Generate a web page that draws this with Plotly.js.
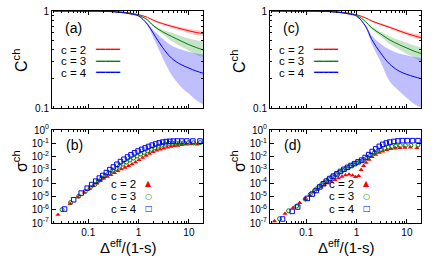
<!DOCTYPE html>
<html><head><meta charset="utf-8">
<script src="https://cdn.plot.ly/plotly-3.0.1.min.js"></script>
<style>html,body{margin:0;padding:0;background:#fff}#chart{width:436px;height:262px}</style>
</head><body><div id="chart"></div>
<script>
// ---------- data: top panels (C^ch curves with bands) ----------
const xCurve = [0.02,0.05,0.1,0.2,0.3,0.5,0.7,1,1.5,2,3,4.5,7,10,14,19.6];
// panel (a)
const cA2    = [1,1,0.999,0.995,0.988,0.97,0.95,0.917,0.86,0.80,0.74,0.695,0.655,0.625,0.60,0.585];
const cA2_hi = [1,1,0.999,0.995,0.988,0.97,0.95,0.917,0.865,0.81,0.76,0.72,0.68,0.655,0.635,0.625];
const cA2_lo = [1,1,0.999,0.995,0.988,0.97,0.95,0.917,0.855,0.785,0.725,0.67,0.625,0.59,0.565,0.55];
const cA3    = [1,1,0.999,0.994,0.986,0.965,0.94,0.902,0.81,0.70,0.61,0.548,0.49,0.45,0.42,0.396];
const cA3_hi = [1,1,0.999,0.994,0.986,0.965,0.94,0.902,0.825,0.72,0.64,0.60,0.55,0.52,0.50,0.487];
const cA3_lo = [1,1,0.999,0.994,0.986,0.965,0.94,0.902,0.795,0.68,0.58,0.49,0.43,0.39,0.355,0.333];
const cA4    = [1,1,0.999,0.993,0.984,0.96,0.93,0.888,0.73,0.58,0.42,0.327,0.28,0.258,0.24,0.228];
const cA4_hi = [1,1,0.999,0.993,0.984,0.96,0.93,0.888,0.75,0.63,0.52,0.44,0.40,0.38,0.365,0.355];
const cA4_lo = [1,1,0.999,0.993,0.984,0.96,0.93,0.888,0.71,0.52,0.33,0.22,0.165,0.14,0.12,0.108];
// panel (c)
const cC2    = [1,1,0.999,0.995,0.988,0.97,0.95,0.915,0.85,0.79,0.73,0.68,0.625,0.585,0.555,0.53];
const cC2_hi = [1,1,0.999,0.995,0.988,0.97,0.95,0.915,0.855,0.80,0.75,0.70,0.645,0.61,0.585,0.565];
const cC2_lo = [1,1,0.999,0.995,0.988,0.97,0.95,0.915,0.845,0.775,0.71,0.66,0.60,0.565,0.53,0.505];
const cC3    = [1,1,0.999,0.994,0.986,0.965,0.94,0.90,0.78,0.67,0.58,0.505,0.45,0.415,0.385,0.363];
const cC3_hi = [1,1,0.999,0.994,0.986,0.965,0.94,0.90,0.79,0.69,0.61,0.55,0.50,0.47,0.44,0.42];
const cC3_lo = [1,1,0.999,0.994,0.986,0.965,0.94,0.90,0.77,0.65,0.55,0.46,0.40,0.36,0.33,0.30];
const cC4    = [1,1,0.999,0.993,0.984,0.96,0.93,0.885,0.70,0.51,0.37,0.285,0.24,0.222,0.21,0.20];
const cC4_hi = [1,1,0.999,0.993,0.984,0.96,0.93,0.885,0.72,0.56,0.46,0.40,0.365,0.35,0.335,0.327];
const cC4_lo = [1,1,0.999,0.993,0.984,0.96,0.93,0.885,0.68,0.46,0.30,0.19,0.15,0.127,0.11,0.10];

// ---------- data: bottom panels (sigma^ch markers) ----------
const xB2 = [0.0251,0.0437,0.0631,0.0832,0.105,0.126,0.148,0.174,0.204,0.240,0.282,0.331,0.389,0.457,0.537,0.631,0.741,0.871,1.02,1.20,1.41,1.66,1.95,2.29,2.69,3.16,3.72,4.37,5.13,6.03,7.24,8.91,11.2,14.5];
const sB2 = [4.2e-7,2.8e-6,8.9e-6,2.0e-5,3.8e-5,6.3e-5,9.5e-5,1.48e-4,2.24e-4,3.16e-4,4.27e-4,6.0e-4,8.3e-4,1.12e-3,1.48e-3,2.0e-3,2.7e-3,3.8e-3,5.6e-3,8.3e-3,0.0120,0.0166,0.0224,0.0295,0.0355,0.0417,0.0501,0.0562,0.0631,0.0676,0.0759,0.0832,0.0871,0.0832];
const xB3 = [0.0302,0.0447,0.0646,0.0871,0.110,0.135,0.158,0.186,0.219,0.257,0.302,0.355,0.417,0.490,0.575,0.676,0.794,0.933,1.10,1.29,1.51,1.78,2.09,2.45,2.88,3.39,3.98,4.68,5.50,6.61,7.94,9.77,12.3,16.6];
const sB3 = [1.0e-6,3.5e-6,1.05e-5,2.4e-5,4.8e-5,7.9e-5,1.41e-4,2.34e-4,3.7e-4,5.8e-4,8.7e-4,1.26e-3,1.86e-3,2.7e-3,3.9e-3,5.5e-3,7.8e-3,0.0110,0.0155,0.0209,0.0275,0.0355,0.0468,0.0603,0.0724,0.0871,0.0977,0.103,0.107,0.110,0.110,0.110,0.108,0.110];
const xB4 = [0.0339,0.0513,0.0724,0.0955,0.117,0.141,0.166,0.195,0.229,0.269,0.316,0.372,0.437,0.513,0.603,0.708,0.832,0.977,1.15,1.35,1.58,1.86,2.19,2.57,3.02,3.55,4.17,4.90,5.89,7.24,9.12,12.0,16.6];
const sB4 = [1.12e-6,5.6e-6,1.78e-5,4.2e-5,7.9e-5,1.41e-4,2.4e-4,3.8e-4,6.3e-4,1.05e-3,1.66e-3,2.63e-3,4.2e-3,6.3e-3,9.3e-3,0.0135,0.0191,0.0263,0.0347,0.0447,0.0575,0.0724,0.0891,0.107,0.123,0.135,0.141,0.145,0.148,0.148,0.148,0.148,0.148];
const xD2 = [0.0234,0.0380,0.0550,0.0741,0.0955,0.117,0.141,0.166,0.195,0.229,0.269,0.316,0.372,0.437,0.513,0.603,0.708,0.832,0.955,1.10,1.23,1.38,1.55,1.78,2.04,2.40,2.82,3.31,3.98,4.79,5.89,7.24,9.12,11.7,15.8];
const sD2 = [1.41e-7,5.0e-7,1.41e-6,3.3e-6,6.6e-6,1.20e-5,2.0e-5,3.16e-5,5.0e-5,7.4e-5,1.0e-4,1.32e-4,1.78e-4,2.34e-4,3.16e-4,4.0e-4,4.5e-4,3.8e-4,2.95e-4,3.5e-4,1.0e-3,2.0e-3,3.5e-3,6.0e-3,9.5e-3,0.0141,0.0200,0.0251,0.0316,0.0372,0.0417,0.0447,0.0479,0.0501,0.0447];
const xD3 = [0.0295,0.0447,0.0646,0.0955,0.120,0.145,0.170,0.200,0.234,0.275,0.324,0.380,0.447,0.525,0.617,0.724,0.851,1.00,1.17,1.38,1.62,1.91,2.24,2.63,3.09,3.63,4.27,5.01,6.03,7.41,9.33,12.0,16.6];
const sD3 = [2.1e-7,8.3e-7,1.91e-6,6.3e-6,1.41e-5,2.6e-5,4.5e-5,7.6e-5,1.20e-4,2.0e-4,3.0e-4,4.4e-4,6.6e-4,9.3e-4,1.32e-3,1.82e-3,2.5e-3,3.3e-3,4.4e-3,6.0e-3,8.7e-3,0.0126,0.0182,0.0263,0.0347,0.0437,0.0513,0.0575,0.0631,0.0661,0.0676,0.0692,0.0741];
const xD4 = [0.0339,0.0525,0.0676,0.105,0.132,0.158,0.186,0.219,0.251,0.295,0.347,0.407,0.479,0.562,0.661,0.776,0.912,1.07,1.26,1.48,1.74,2.04,2.40,2.82,3.31,3.89,4.57,5.50,6.61,8.13,10.2,12.9,16.6];
const sD4 = [2.0e-7,7.4e-7,1.58e-6,7.1e-6,1.51e-5,2.8e-5,5.2e-5,8.9e-5,1.41e-4,2.24e-4,3.4e-4,5.0e-4,7.6e-4,1.10e-3,1.55e-3,2.14e-3,2.95e-3,4.0e-3,5.4e-3,8.5e-3,0.0141,0.0240,0.0380,0.0589,0.0832,0.105,0.123,0.138,0.151,0.158,0.158,0.158,0.158];

// ---------- labels ----------
const seriesNames = ['c = 2','c = 3','c = 4'];
const panelLabels = ['(a)','(b)','(c)','(d)'];
const xTickVals = [0.1,1,10];
const xTickText = ['0.1','1','10'];
const cTickVals = [0.1,1];
const cTickText = ['0.1','1'];
const sTickVals = [1e-7,1e-6,1e-5,1e-4,1e-3,1e-2,1e-1,1];
const sTickText = ['10<sup>-7</sup>','10<sup>-6</sup>','10<sup>-5</sup>','10<sup>-4</sup>','10<sup>-3</sup>','10<sup>-2</sup>','10<sup>-1</sup>','10<sup>0</sup>'];
const yTitleTop = 'C<sup>ch</sup>';
const yTitleBot = 'σ<sup>ch</sup>';
const xTitle = 'Δ<sup>eff</sup>/(1-s)';

// ---------- styles ----------
const lineCols = ['#ff0000','#008000','#0000ff'];
const bandCols = ['rgba(255,0,0,0.22)','rgba(0,128,0,0.22)','rgba(0,0,255,0.25)'];
const W = 436, H = 262;
const px = v => v / W, py = v => 1 - v / H;

const traces = [];
function curvePanel(xa, ya, lines, his, los) {
  for (let i = 0; i < 3; i++) {
    traces.push({x: xCurve, y: his[i], xaxis: xa, yaxis: ya, mode: 'lines', line: {width: 0, shape: 'spline'}, showlegend: false, hoverinfo: 'skip'});
    traces.push({x: xCurve, y: los[i], xaxis: xa, yaxis: ya, mode: 'lines', line: {width: 0, shape: 'spline'}, fill: 'tonexty', fillcolor: bandCols[i], showlegend: false, hoverinfo: 'skip'});
  }
  for (let i = 0; i < 3; i++) {
    traces.push({x: xCurve, y: lines[i], xaxis: xa, yaxis: ya, mode: 'lines', name: seriesNames[i], line: {color: lineCols[i], width: 1, shape: 'spline'}, showlegend: false});
  }
}
curvePanel('x', 'y', [cA2, cA3, cA4], [cA2_hi, cA3_hi, cA4_hi], [cA2_lo, cA3_lo, cA4_lo]);
curvePanel('x3', 'y3', [cC2, cC3, cC4], [cC2_hi, cC3_hi, cC4_hi], [cC2_lo, cC3_lo, cC4_lo]);

const markerStyles = [
  {symbol: 'triangle-up', size: 4.5, color: '#ff0000'},
  {symbol: 'circle-open', size: 4, color: '#008000', line: {width: 1, color: '#008000'}},
  {symbol: 'square-open', size: 4.5, color: '#0000ff', line: {width: 1, color: '#0000ff'}}
];
function markerPanel(xa, ya, xs, ys) {
  for (let i = 0; i < 3; i++) {
    traces.push({x: xs[i], y: ys[i], xaxis: xa, yaxis: ya, mode: 'markers', name: seriesNames[i], marker: markerStyles[i], showlegend: false});
  }
}
markerPanel('x2', 'y2', [xB2, xB3, xB4], [sB2, sB3, sB4]);
markerPanel('x4', 'y4', [xD2, xD3, xD4], [sD2, sD3, sD4]);

// minor tick positions
const minorX = [], minorC = [];
for (let d = -2; d <= 1; d++) for (let m = 2; m <= 9; m++) minorX.push(m * Math.pow(10, d));
for (let m = 2; m <= 9; m++) minorC.push(m / 10);

const tickFont = {family: 'Liberation Sans, Arial, sans-serif', size: 10, color: '#000'};
function xax(dom, anchor, labels) {
  return {domain: dom, anchor: anchor, type: 'log', range: [-1.72, 1.28],
    tickmode: 'array', tickvals: xTickVals, ticktext: xTickText, showticklabels: labels,
    ticks: 'inside', ticklen: 4, tickwidth: 1, tickcolor: '#000',
    minor: {ticks: 'inside', ticklen: 2, tickwidth: 1, tickcolor: '#000', tickmode: 'array', tickvals: minorX, showgrid: false},
    showline: true, linecolor: '#000', linewidth: 1, mirror: 'allticks', showgrid: false, zeroline: false,
    tickfont: tickFont, fixedrange: true};
}
function yaxTop(dom, anchor) {
  return {domain: dom, anchor: anchor, type: 'log', range: [-1, 0],
    tickmode: 'array', tickvals: cTickVals, ticktext: cTickText,
    ticks: 'inside', ticklen: 4, tickwidth: 1, tickcolor: '#000',
    minor: {ticks: 'inside', ticklen: 2, tickwidth: 1, tickcolor: '#000', tickmode: 'array', tickvals: minorC, showgrid: false},
    showline: true, linecolor: '#000', linewidth: 1, mirror: 'allticks', showgrid: false, zeroline: false,
    tickfont: tickFont, fixedrange: true};
}
function yaxBot(dom, anchor) {
  return {domain: dom, anchor: anchor, type: 'log', range: [-7, 0],
    tickmode: 'array', tickvals: sTickVals, ticktext: sTickText,
    ticks: 'inside', ticklen: 4, tickwidth: 1, tickcolor: '#000',
    showline: true, linecolor: '#000', linewidth: 1, mirror: 'allticks', showgrid: false, zeroline: false,
    tickfont: tickFont, fixedrange: true};
}
const xL = [px(52), px(203)], xR = [px(270), px(421)];
const yT = [py(108), py(11)], yB = [py(223), py(130)];

const annFont = (size, color) => ({family: 'Liberation Sans, Arial, sans-serif', size: size, color: color || '#000'});
const ann = [];
function note(text, x, y, font, extra) {
  ann.push(Object.assign({text: text, x: px(x), y: py(y), xref: 'paper', yref: 'paper',
    xanchor: 'center', yanchor: 'middle', showarrow: false, borderpad: 0, font: font}, extra || {}));
}
const offs = [0, 218];
offs.forEach((o, k) => {
  note(panelLabels[2 * k], 73 + o, 28, annFont(14));
  note(panelLabels[2 * k + 1], 74 + o, 145, annFont(14));
  note(yTitleTop, 20 + o, 61, annFont(16), {textangle: -90});
  note(yTitleBot, 20 + o, 161, annFont(16), {textangle: -90});
  note(xTitle, 128 + o, 246, annFont(15));
  const topY = [49.5, 61, 72.5], botY = [183.5, 196, 208.5];
  const glyphs = ['▲', '○', '□'];
  for (let i = 0; i < 3; i++) {
    note(seriesNames[i], 60 + o, topY[i], annFont(11.5), {xanchor: 'left'});
    note('━━━━━', 107 + o, topY[i], {family: 'DejaVu Sans', size: 8, color: lineCols[i]});
    note(seriesNames[i], 110 + o, botY[i], annFont(11.5), {xanchor: 'left'});
    note(glyphs[i], 148.5 + o, botY[i], {family: 'DejaVu Sans', size: 8, color: lineCols[i]});
  }
});

const layout = {
  width: W, height: H, margin: {l: 0, r: 0, t: 0, b: 0},
  paper_bgcolor: '#fff', plot_bgcolor: '#fff', showlegend: false,
  xaxis: xax(xL, 'y', false), yaxis: yaxTop(yT, 'x'),
  xaxis2: xax(xL, 'y2', true), yaxis2: yaxBot(yB, 'x2'),
  xaxis3: xax(xR, 'y3', false), yaxis3: yaxTop(yT, 'x3'),
  xaxis4: xax(xR, 'y4', true), yaxis4: yaxBot(yB, 'x4'),
  annotations: ann
};
Plotly.newPlot('chart', traces, layout, {staticPlot: true, displayModeBar: false});
</script>
</body></html>
